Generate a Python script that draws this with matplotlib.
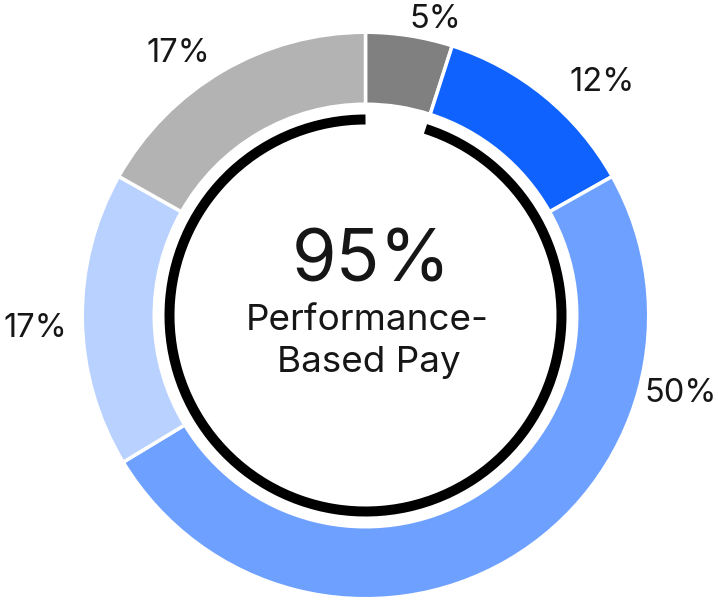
import numpy as np
import matplotlib
matplotlib.use("Agg")
import matplotlib.pyplot as plt
from matplotlib.patches import Arc

# Data
categories = ["A", "B", "C", "D", "E"]
values = [5, 12, 50, 17, 17]
labels = ["5%", "12%", "50%", "17%", "17%"]
colors = ["#808080", "#0f62fe", "#6ea1ff", "#b8d1ff", "#b3b3b3"]
center_value = "95%"
center_line1 = "Performance-"
center_line2 = "Based Pay"

# Layout (pixel coordinates, y up); label anchors are text baselines
W, H = 718, 602
cx, cy = 365.5, H - 315.5
label_pos = [(435, H - 28), (602, H - 91), (680.5, H - 402), (35, H - 337), (178.5, H - 62)]

plt.rcParams['font.family'] = ['Inter', 'DejaVu Sans']

fig = plt.figure(figsize=(W / 100, H / 100), dpi=100)
ax = fig.add_axes([0, 0, 1, 1])

lw_px = 3.5
R = 281.5 + lw_px / 2
inner = 213 - lw_px / 2
ax.pie(values, colors=colors, startangle=90, counterclock=False,
       radius=R, center=(cx, cy), frame=True,
       wedgeprops=dict(width=R - inner, edgecolor='white', linewidth=lw_px * 0.72))
ax.set_xlim(0, W)
ax.set_ylim(0, H)
ax.set_aspect('auto')
ax.axis('off')

# Inner black arc covering everything except the first slice
frac_first = values[0] / sum(values) * 360
arc = Arc((cx, cy), 2 * 196, 2 * 196, theta1=90, theta2=90 - frac_first + 360,
          lw=10 * 0.72, color='black', capstyle='butt')
ax.add_patch(arc)

txt_color = '#161616'
for (x, y), t in zip(label_pos, labels):
    ax.text(x, y, t, ha='center', va='baseline', fontsize=23.5, color=txt_color)

ax.text(371.5, H - 282, center_value, ha='center', va='baseline', fontsize=52, color=txt_color)
ax.text(367, H - 330, center_line1, ha='center', va='baseline', fontsize=26.5, color=txt_color)
ax.text(369, H - 372, center_line2, ha='center', va='baseline', fontsize=26.5, color=txt_color)

fig.savefig("out.png", dpi=100)
